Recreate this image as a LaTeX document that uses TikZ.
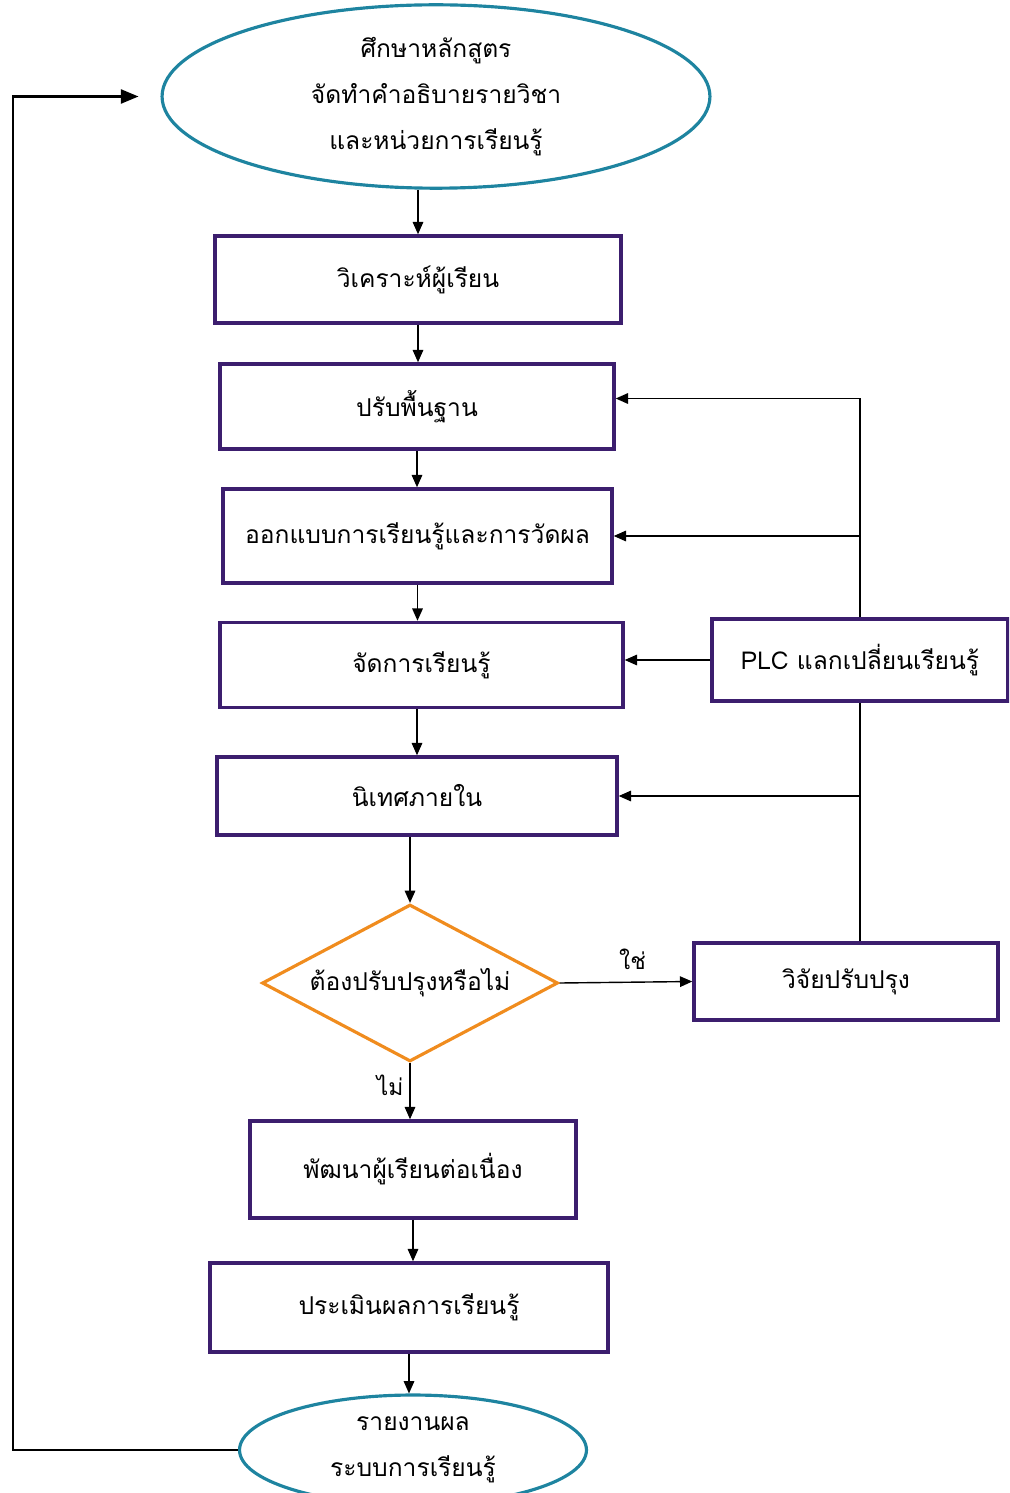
\documentclass[tikz,border=0pt]{standalone}
\usepackage{fontspec}
\setmainfont[Script=Thai]{Loma}
\usetikzlibrary{shapes.geometric,arrows.meta}
\definecolor{boxline}{RGB}{60,30,110}
\definecolor{ovalline}{RGB}{30,132,160}
\definecolor{askline}{RGB}{240,140,30}

\begin{document}
\begin{tikzpicture}[x=0.02cm,
y=-0.02cm,
every node/.style={
align = center,
font=\fontsize{14}{26}\selectfont,
},
box/.style={
rectangle,
draw=boxline,
line width=2pt,
},
oval/.style={
ellipse,
draw=ovalline,
line width=1.8pt,
},
ask/.style={
diamond,
draw=askline,
line width=1.8pt,
shape aspect=2,
inner sep=0pt,
},
line/.style={
line width=0.8pt,
},
arrow/.style={
line width=0.8pt,
-{Triangle[length=7pt,width=6pt]},
}]

\useasboundingbox (0,0) rectangle (1009,1493);
\clip (0,0) rectangle (1009,1493);

%Main column
\node[oval,minimum width=10.96cm,minimum height=3.46cm](study)at(436,96.5){ศึกษาหลักสูตร\\จัดทำคำอธิบายรายวิชา\\และหน่วยการเรียนรู้};
\node[box,minimum width=8.12cm,minimum height=1.74cm](learner)at(418,279.5){วิเคราะห์ผู้เรียน};
\node[box,minimum width=7.88cm,minimum height=1.70cm](basic)at(417,406.5){ปรับพื้นฐาน};
\node[box,minimum width=7.78cm,minimum height=1.88cm](design)at(417.5,536){ออกแบบการเรียนรู้และการวัดผล};
\node[box,minimum width=8.06cm,minimum height=1.70cm](teach)at(421.5,665){จัดการเรียนรู้};
\node[box,minimum width=8.00cm,minimum height=1.56cm](super)at(417,796){นิเทศภายใน};
\node[ask,minimum width=5.92cm,minimum height=3.14cm](check)at(410,983){ต้องปรับปรุงหรือไม่};
\node[box,minimum width=6.52cm,minimum height=1.94cm](develop)at(413,1169.5){พัฒนาผู้เรียนต่อเนื่อง};
\node[box,minimum width=7.96cm,minimum height=1.78cm](assess)at(409,1307.5){ประเมินผลการเรียนรู้};
\node[oval,minimum width=6.94cm,minimum height=2.2cm](report)at(413,1450){รายงานผล\\ระบบการเรียนรู้};

%Right column
\node[box,minimum width=5.92cm,minimum height=1.64cm](plc)at(860,660){PLC แลกเปลี่ยนเรียนรู้};
\node[box,minimum width=6.08cm,minimum height=1.54cm](research)at(846,981.5){วิจัยปรับปรุง};

%Down the column
\draw[arrow] (learner.north |- study.south) -- (learner.north);
\draw[arrow] (learner.south) -- (learner.south |- basic.north);
\draw[arrow] (basic.south) -- (basic.south |- design.north);
\draw[arrow] (design.south) -- (design.south |- teach.north);
\draw[arrow] (teach.south -| super.north) -- (super.north);
\draw[arrow] (super.south -| check.north) -- (check.north);
\draw[arrow] (check.south) -- node[left,pos=0.4,font=\fontsize{13}{15}\selectfont]{ไม่} (check.south |- develop.north);
\draw[arrow] (develop.south) -- (develop.south |- assess.north);
\draw[arrow] (assess.south) -- (assess.south |- report.north);

%Loop back
\draw[line width=1.2pt,-{Triangle[length=10pt,width=8pt]},shorten >=0.44cm] (report.west) -- ++(-225,0) |- (study.west);

%Improve
\draw[arrow] (check.east) -- node[above,pos=0.55,yshift=0.12cm,font=\fontsize{13}{15}\selectfont]{ใช่} (research.west);
\draw[line] (research.north -| plc.south) -- (plc.south);
\draw[arrow] (plc.north) |- ([yshift=0.16cm]basic.east);
\draw[arrow] (plc.north |- design.east) -- (design.east);
\draw[arrow] (plc.west) -- (plc.west -| teach.east);
\draw[arrow] (plc.south |- super.east) -- (super.east);
\end{tikzpicture}
\end{document}
